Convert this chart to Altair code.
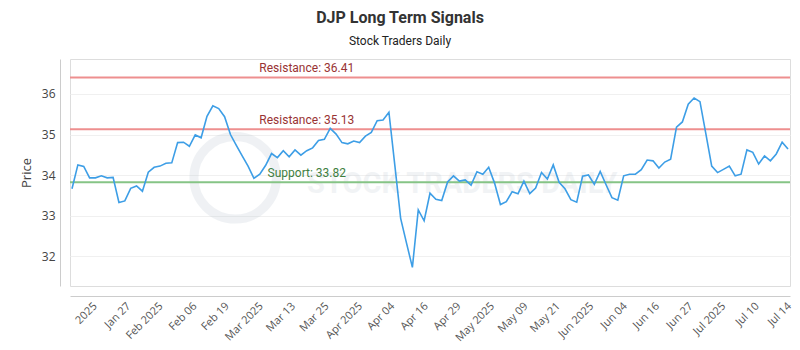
import altair as alt
import pandas as pd

# ---- data ----
prices = [
    33.66, 34.25, 34.21, 33.93, 33.93, 33.98, 33.93, 33.94, 33.32, 33.36,
    33.67, 33.73, 33.60, 34.07, 34.19, 34.22, 34.29, 34.30, 34.80, 34.81,
    34.71, 34.99, 34.92, 35.45, 35.71, 35.64, 35.44, 35.00, 34.73, 34.47,
    34.22, 33.92, 34.02, 34.24, 34.53, 34.43, 34.60, 34.45, 34.62, 34.49,
    34.60, 34.67, 34.85, 34.88, 35.15, 35.01, 34.80, 34.77, 34.84, 34.80,
    34.96, 35.05, 35.34, 35.36, 35.55, 34.25, 32.93, 32.32, 31.72, 33.14,
    32.87, 33.55, 33.40, 33.37, 33.83, 33.98, 33.85, 33.88, 33.75, 34.08,
    34.02, 34.19, 33.80, 33.27, 33.34, 33.59, 33.54, 33.85, 33.54, 33.68,
    34.06, 33.90, 34.25, 33.82, 33.66, 33.39, 33.33, 33.97, 34.00, 33.77,
    34.09, 33.76, 33.44, 33.38, 33.98, 34.02, 34.02, 34.13, 34.37, 34.35,
    34.17, 34.32, 34.39, 35.18, 35.31, 35.75, 35.90, 35.81, 35.02, 34.22,
    34.06, 34.14, 34.22, 33.98, 34.02, 34.62, 34.56, 34.27, 34.47, 34.35,
    34.52, 34.81, 34.64,
]
point_index = list(range(len(prices)))

tick_positions = [3.2, 8.9, 14.4, 20.2, 25.7, 31.5, 37.0, 42.7, 48.4, 53.9, 59.6,
                  65.2, 70.9, 76.6, 82.1, 87.8, 93.5, 99.0, 104.7, 110.3, 116.0, 121.5]
tick_labels = ["2025", "Jan 27", "Feb 2025", "Feb 06", "Feb 19", "Mar 2025", "Mar 13",
               "Mar 25", "Apr 2025", "Apr 04", "Apr 16", "Apr 29", "May 2025", "May 09",
               "May 21", "Jun 2025", "Jun 04", "Jun 16", "Jun 27", "Jul 2025", "Jul 10",
               "Jul 14"]

level_values = [36.41, 35.13, 33.82]
level_names = ["Resistance", "Resistance", "Support"]
level_label_index = [40, 40, 40]

y_ticks = [32, 33, 34, 35, 36]

# ---- tables ----
series = pd.DataFrame({"i": point_index, "price": prices})
levels = pd.DataFrame({
    "level": level_values,
    "kind": level_names,
    "li": level_label_index,
    "label": [f"{n}: {v:.2f}" for n, v in zip(level_names, level_values)],
})

label_map = "{" + ",".join(f"'{int(round(p * 10))}':'{t}'"
                           for p, t in zip(tick_positions, tick_labels)) + "}"
label_expr = f"{label_map}['' + round(datum.value * 10)]"

x_scale = alt.Scale(domain=[-0.34, 122.34], nice=False, zero=False)
y_scale = alt.Scale(domain=[31.26, 36.864], nice=False, zero=False)


def x_axis(vals, show_domain):
    return alt.Axis(
        values=vals, labelExpr=label_expr, orient="bottom",
        labelAngle=-45, labelAlign="right", labelBaseline="top",
        ticks=False, grid=False, offset=10, labelPadding=4, domain=show_domain,
        domainColor="#cccccc", labelColor="#555555", labelFont="Open Sans",
        labelFontSize=11, labelOverlap=False, labelBound=False, labelFlush=False,
    )


y_axis = alt.Axis(
    values=y_ticks, ticks=False, offset=10, labelPadding=5,
    domainColor="#cccccc", gridColor="#f0f0f0", grid=True,
    labelColor="#444444", labelFont="Open Sans", labelFontSize=12,
    titleFont="Open Sans", titleFontSize=13, titleFontWeight="normal",
    titleColor="#444444", titlePadding=8,
)

is_support = alt.datum.kind == "Support"

line = alt.Chart(series).mark_line(color="#3d9ee6", strokeWidth=1.6).encode(
    x=alt.X("i:Q", scale=x_scale, title=None, axis=x_axis(tick_positions[0::2], True)),
    y=alt.Y("price:Q", scale=y_scale, title="Price", axis=y_axis),
)

rules = alt.Chart(levels).mark_rule(strokeWidth=2).encode(
    y=alt.Y("level:Q", scale=y_scale, title="Price", axis=y_axis),
    color=alt.condition(is_support, alt.value("#86c486"), alt.value("#ee8f8f")),
)

texts = alt.Chart(levels).mark_text(
    font="Roboto", fontSize=12, baseline="bottom", align="center", dy=-2
).encode(
    x=alt.X("li:Q", scale=x_scale, title=None, axis=x_axis(tick_positions[1::2], False)),
    y=alt.Y("level:Q", scale=y_scale, title="Price", axis=y_axis),
    text="label:N",
    color=alt.condition(is_support, alt.value("#3f7f3f"), alt.value("#993333")),
)

wm_text = alt.Chart(pd.DataFrame({"t": ["STOCK TRADERS DAILY"]})).mark_text(
    font="Roboto", fontSize=29, fontWeight="bold", color="#9fb0c0", opacity=0.14,
    align="center", baseline="middle",
).encode(
    x=alt.XDatum(66.5, type="quantitative", scale=x_scale, axis=None),
    y=alt.YDatum(33.78, type="quantitative", scale=y_scale, title="Price", axis=y_axis),
    text="t:N",
)

wm_logo = alt.Chart(pd.DataFrame({"t": [1]})).mark_point(
    shape="circle", size=6800, strokeWidth=9, color="#b8c4d0", opacity=0.22, filled=False,
).encode(
    x=alt.XDatum(27.8, type="quantitative", scale=x_scale, axis=None),
    y=alt.YDatum(33.93, type="quantitative", scale=y_scale, title="Price", axis=y_axis),
)

chart = alt.layer(wm_logo, wm_text, rules, line, texts).resolve_axis(
    x="independent"
).properties(
    width=720, height=227,
    autosize=alt.AutoSizeParams(type="none"),
    padding={"left": 70, "top": 59, "right": 10, "bottom": 64},
    title=alt.TitleParams(
        text="DJP Long Term Signals", subtitle="Stock Traders Daily",
        anchor="middle", dx=-30, font="Roboto", fontSize=16, fontWeight="bold",
        color="#333333", subtitleFont="Roboto", subtitleFontSize=12,
        subtitleColor="#222222", subtitlePadding=10, offset=12,
    ),
).configure_view(stroke="#888888", strokeWidth=1).configure(background="white")

chart.save("out.html", embed_options={"renderer": "svg", "actions": False})
